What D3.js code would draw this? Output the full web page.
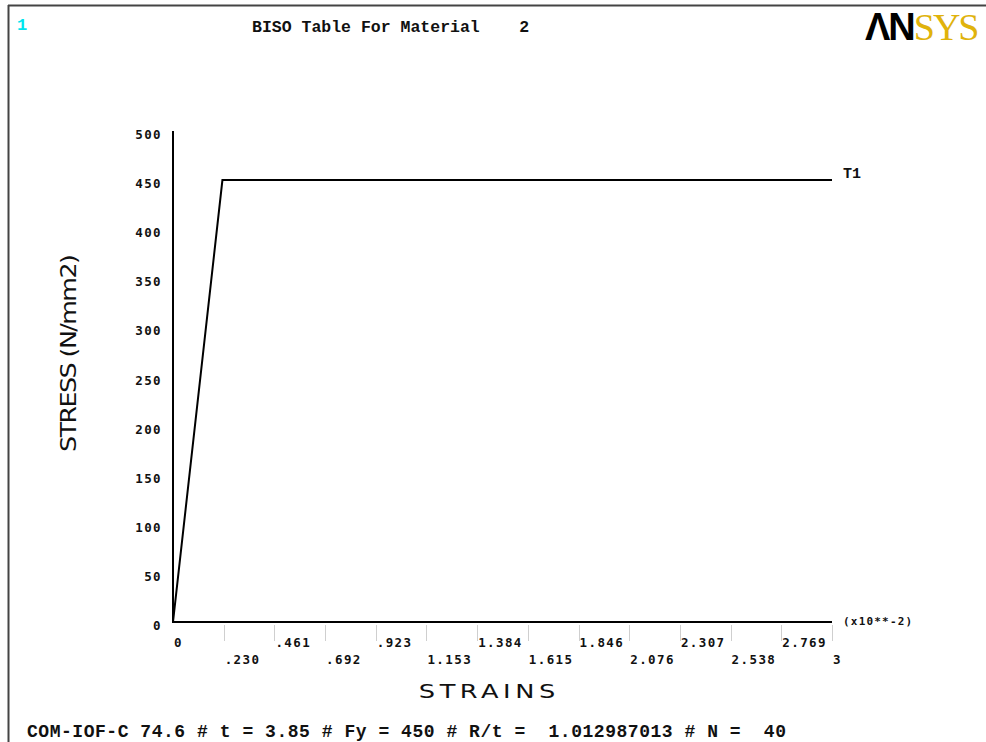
<!DOCTYPE html>
<html>
<head>
<meta charset="utf-8">
<script src="https://cdn.jsdelivr.net/npm/d3@7"></script>
<style>
  html, body { margin: 0; padding: 0; background: #fff; }
  svg { display: block; }
</style>
</head>
<body>
<div id="chart"></div>
<script>
// BISO curve points (strain x10**-2, stress N/mm2)
var strain = [0, 0.225, 3];
var stress = [0, 450, 450];

// axis ticks
var yTicks = [0, 50, 100, 150, 200, 250, 300, 350, 400, 450, 500];
var xTicks = [0, 0.2308, 0.4615, 0.6923, 0.9231, 1.1538, 1.3846, 1.6154, 1.8462, 2.0769, 2.3077, 2.5385, 2.7692, 3];
var xTickLabels = ["0", ".230", ".461", ".692", ".923", "1.153", "1.384", "1.615", "1.846", "2.076", "2.307", "2.538", "2.769", "3"];

var titleText = "BISO Table For Material    2";
var footText = "COM-IOF-C 74.6 # t = 3.85 # Fy = 450 # R/t =  1.012987013 # N =  40";

function init() {
    var w = 986, h = 742;

    var svg = d3.select("#chart")
                .append("svg")
                .attr("width", w)
                .attr("height", h);

    // frame lines (top + left)
    svg.append("line").attr("x1", 8).attr("y1", 5.5).attr("x2", w).attr("y2", 5.5)
       .attr("stroke", "#444").attr("stroke-width", 2);
    svg.append("line").attr("x1", 8.5).attr("y1", 5).attr("x2", 8.5).attr("y2", h)
       .attr("stroke", "#444").attr("stroke-width", 2);

    // window number
    svg.append("text").attr("x", 17).attr("y", 30)
       .attr("font-family", "Liberation Mono").attr("font-weight", "bold")
       .attr("font-size", 17).attr("fill", "#00e5ee").text("1");

    // title
    svg.append("text").attr("x", 252).attr("y", 32)
       .attr("font-family", "Liberation Mono").attr("font-weight", "bold")
       .attr("font-size", 16.5).attr("fill", "#111")
       .attr("xml:space", "preserve").style("white-space", "pre")
       .text(titleText);

    // logo
    var logo = svg.append("text").attr("x", 865).attr("y", 40)
       .attr("font-size", 38);
    logo.append("tspan").attr("font-family", "Liberation Sans").attr("font-weight", "bold")
        .attr("fill", "#000").attr("letter-spacing", -2).text("ΛN");
    logo.append("tspan").attr("font-family", "Liberation Serif")
        .attr("fill", "#e0b30c").attr("letter-spacing", -2).text("SYS");

    // scales
    var x = d3.scaleLinear().domain([0, 3]).range([173, 832]);
    var y = d3.scaleLinear().domain([0, 500]).range([622, 131]);

    // x tick marks (light gray)
    svg.selectAll(".xtick")
       .data(xTicks.slice(1))
       .enter()
       .append("line")
       .attr("x1", d => Math.round(x(d)) + 0.5)
       .attr("x2", d => Math.round(x(d)) + 0.5)
       .attr("y1", 625)
       .attr("y2", 641)
       .attr("stroke", "#cfcfcf")
       .attr("stroke-width", 1);

    // x tick labels, alternating rows
    svg.selectAll(".xlab")
       .data(xTicks)
       .enter()
       .append("text")
       .attr("x", d => x(d) + 1)
       .attr("y", (d, i) => i % 2 === 0 ? 647 : 664)
       .attr("font-family", "DejaVu Sans Mono")
       .attr("font-weight", "bold")
       .attr("font-size", 12.5)
       .attr("letter-spacing", 1.4)
       .attr("fill", "#111")
       .text((d, i) => xTickLabels[i]);

    // y tick labels
    svg.selectAll(".ylab")
       .data(yTicks)
       .enter()
       .append("text")
       .attr("x", 162)
       .attr("y", d => y(d) + 8)
       .attr("text-anchor", "end")
       .attr("font-family", "DejaVu Sans Mono")
       .attr("font-weight", "bold")
       .attr("font-size", 12.5)
       .attr("letter-spacing", 1.4)
       .attr("fill", "#111")
       .text(d => d);

    // axes
    svg.append("line").attr("x1", 173).attr("y1", y(500)).attr("x2", 173).attr("y2", y(0) + 1)
       .attr("stroke", "#000").attr("stroke-width", 2);
    svg.append("line").attr("x1", 172).attr("y1", y(0)).attr("x2", x(3)).attr("y2", y(0))
       .attr("stroke", "#000").attr("stroke-width", 2);

    // multiplier
    svg.append("text").attr("x", 843).attr("y", 625)
       .attr("font-family", "DejaVu Sans Mono").attr("font-weight", "bold")
       .attr("font-size", 11).attr("letter-spacing", 1.2).attr("fill", "#111")
       .text("(x10**-2)");

    // data line
    var line = d3.line()
                 .x(d => x(d[0]))
                 .y(d => y(d[1]));
    svg.append("path")
       .datum(d3.zip(strain, stress))
       .attr("d", line)
       .attr("fill", "none")
       .attr("stroke", "#000")
       .attr("stroke-width", 2);

    // curve label
    svg.append("text").attr("x", 843).attr("y", 178)
       .attr("font-family", "Liberation Mono").attr("font-weight", "bold")
       .attr("font-size", 15).attr("fill", "#111").text("T1");

    // axis titles
    svg.append("text")
       .attr("transform", "translate(76,353) rotate(-90) scale(1.15,1)")
       .attr("text-anchor", "middle")
       .attr("font-family", "DejaVu Sans")
       .attr("font-size", 22).attr("fill", "#111")
       .attr("textLength", 172).attr("lengthAdjust", "spacing")
       .text("STRESS (N/mm2)");

    svg.append("text")
       .attr("transform", "translate(487,698) scale(1.35,1)")
       .attr("text-anchor", "middle")
       .attr("font-family", "DejaVu Sans")
       .attr("font-size", 19).attr("fill", "#111")
       .attr("textLength", 101).attr("lengthAdjust", "spacing")
       .text("STRAINS");

    // footer
    svg.append("text").attr("x", 27).attr("y", 737)
       .attr("font-family", "Liberation Mono").attr("font-weight", "bold")
       .attr("font-size", 18).attr("fill", "#111")
       .attr("xml:space", "preserve").style("white-space", "pre")
       .attr("textLength", 759).attr("lengthAdjust", "spacing")
       .text(footText);
}

window.onload = init;
</script>
</body>
</html>
